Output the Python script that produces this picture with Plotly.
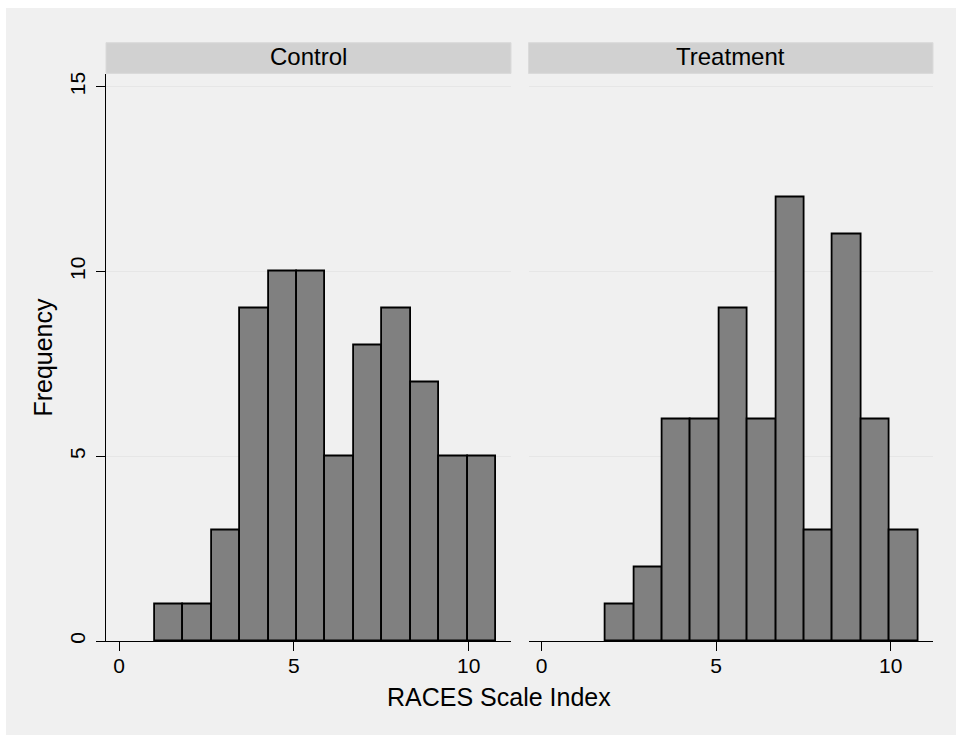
import plotly.graph_objects as go

# ---- data ----
groups = ["Control", "Treatment"]
bin_start = 1.02
bin_width = 0.8135
control_counts = [1, 1, 3, 9, 10, 10, 5, 8, 9, 7, 5, 5]
treatment_counts = [0, 1, 2, 6, 6, 9, 6, 12, 3, 11, 6, 3]
x_ticks = [0, 5, 10]
y_ticks = [0, 5, 10, 15]
x_title = "RACES Scale Index"
y_title = "Frequency"

W, H = 956, 738
def px(x):
    return x / W
def py(y):
    return 1 - y / H

FONT = "Liberation Sans, Arial, Helvetica, sans-serif"
BG = "#F0F0F0"
HEADER = "#D1D1D1"

fig = go.Figure()

for i, counts in enumerate([control_counts, treatment_counts]):
    centers = [bin_start + bin_width * (k + 0.5) for k in range(len(counts))]
    xs = [c for c, n in zip(centers, counts) if n > 0]
    ys = [n for n in counts if n > 0]
    fig.add_trace(go.Bar(
        x=xs, y=ys, width=bin_width,
        marker=dict(color="#808080", line=dict(color="#000000", width=1.8)),
        xaxis="x" if i == 0 else "x2", yaxis="y" if i == 0 else "y2",
        showlegend=False, hoverinfo="x+y",
    ))

plot_top, plot_bottom = 72, 643.4
doms = [(106, 511), (528.5, 933)]
xr = [-0.375, 11.21]
yr = [0, 15.33]

common_x = dict(range=xr, tickvals=x_ticks, ticks="outside", ticklen=9, tickwidth=1,
                tickcolor="#000", showline=True, linecolor="#000", linewidth=1,
                showgrid=False, zeroline=False, fixedrange=True, ticklabelstandoff=-3,
                tickfont=dict(family=FONT, size=21, color="#000"))
common_y = dict(range=yr, tickvals=y_ticks, showgrid=True, gridcolor="#E6E6E6", gridwidth=1,
                zeroline=False, fixedrange=True,
                domain=[py(plot_bottom), py(plot_top)])

fig.update_layout(
    width=W, height=H,
    margin=dict(l=0, r=0, t=0, b=0),
    paper_bgcolor="#FFFFFF",
    plot_bgcolor="#FFFFFF",
    bargap=0,
    xaxis=dict(domain=[px(doms[0][0]), px(doms[0][1])], anchor="y", **common_x),
    xaxis2=dict(domain=[px(doms[1][0]), px(doms[1][1])], anchor="y2", **common_x),
    yaxis=dict(anchor="x", ticks="outside", ticklen=9, tickwidth=1, tickcolor="#000",
               showline=True, linecolor="#000", linewidth=1, tickangle=-90,
               ticklabelstandoff=3,
               tickfont=dict(family=FONT, size=21, color="#000"), **common_y),
    yaxis2=dict(anchor="x2", showticklabels=False, ticks="", showline=False, **common_y),
    shapes=[
        dict(type="rect", xref="paper", yref="paper", x0=px(6), x1=1, y0=0, y1=py(5),
             fillcolor=BG, line=dict(width=0), layer="below"),
        dict(type="rect", xref="paper", yref="paper", x0=px(doms[0][0]), x1=px(doms[0][1]),
             y0=py(71), y1=py(40), fillcolor=HEADER, line=dict(color="#DADADA", width=1)),
        dict(type="rect", xref="paper", yref="paper", x0=px(doms[1][0]), x1=px(doms[1][1]),
             y0=py(71), y1=py(40), fillcolor=HEADER, line=dict(color="#DADADA", width=1)),
    ],
    annotations=[
        dict(text=groups[0], xref="paper", yref="paper", x=px((doms[0][0] + doms[0][1]) / 2),
             y=py(54), xanchor="center", yanchor="middle", showarrow=False,
             font=dict(family=FONT, size=24, color="#000")),
        dict(text=groups[1], xref="paper", yref="paper", x=px((doms[1][0] + doms[1][1]) / 2),
             y=py(54), xanchor="center", yanchor="middle", showarrow=False,
             font=dict(family=FONT, size=24, color="#000")),
        dict(text=x_title, xref="paper", yref="paper", x=px(499), y=py(700),
             xanchor="center", yanchor="middle", showarrow=False,
             font=dict(family=FONT, size=25, color="#000")),
        dict(text=y_title, xref="paper", yref="paper", x=px(43), y=py(357.5),
             xanchor="center", yanchor="middle", showarrow=False, textangle=-90,
             font=dict(family=FONT, size=25, color="#000")),
    ],
)

fig.write_html("out.html")
